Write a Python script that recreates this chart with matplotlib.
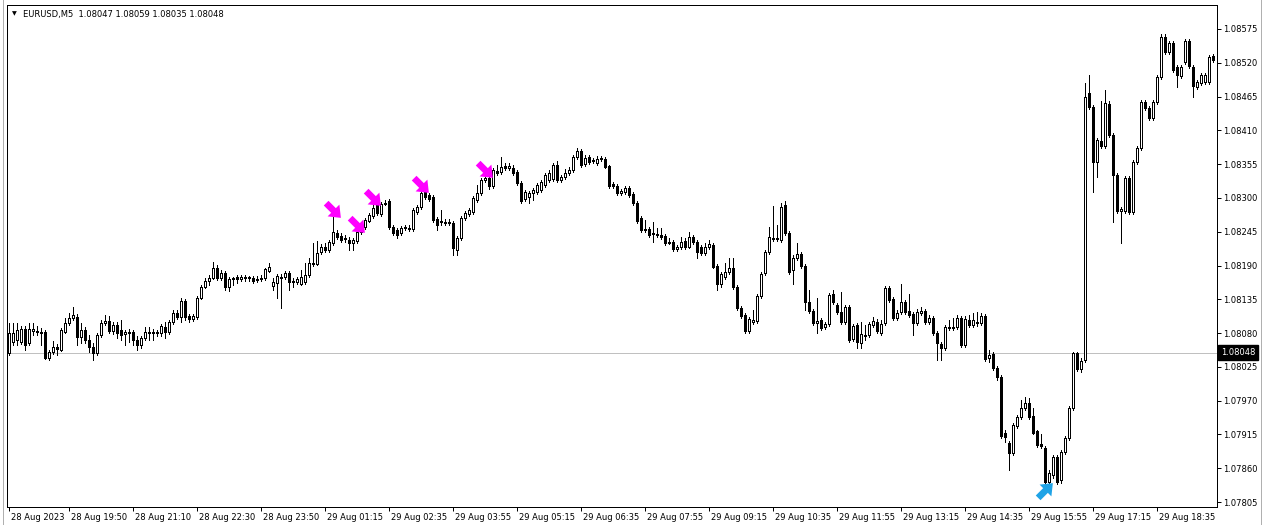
import numpy as np
import matplotlib
matplotlib.use("Agg")
import matplotlib.pyplot as plt
from matplotlib.path import Path
from matplotlib.transforms import Affine2D, ScaledTranslation, blended_transform_factory
from matplotlib.lines import Line2D

# ---------------- data ----------------
symbol = "EURUSD,M5"
header_ohlc = "1.08047 1.08059 1.08035 1.08048"
current_price = 1.08048

open_ = [
    1.08048, 1.08065, 1.08069, 1.08065, 1.08087, 1.08064, 1.08083, 1.08083, 1.08080, 1.08082,
    1.08039, 1.08049, 1.08057, 1.08052, 1.08082, 1.08096, 1.08104, 1.08106, 1.08074, 1.08085,
    1.08069, 1.08057, 1.08048, 1.08077, 1.08096, 1.08100, 1.08083, 1.08093, 1.08085, 1.08078,
    1.08080, 1.08082, 1.08069, 1.08061, 1.08072, 1.08080, 1.08082, 1.08080, 1.08080, 1.08090,
    1.08082, 1.08098, 1.08113, 1.08106, 1.08132, 1.08108, 1.08103, 1.08106, 1.08137, 1.08155,
    1.08165, 1.08169, 1.08186, 1.08169, 1.08178, 1.08155, 1.08168, 1.08171, 1.08168, 1.08171,
    1.08169, 1.08169, 1.08166, 1.08168, 1.08169, 1.08181, 1.08156, 1.08161, 1.08169, 1.08171,
    1.08178, 1.08165, 1.08163, 1.08160, 1.08163, 1.08174, 1.08192, 1.08192, 1.08212, 1.08220,
    1.08215, 1.08227, 1.08243, 1.08238, 1.08235, 1.08232, 1.08227, 1.08230, 1.08244, 1.08253,
    1.08262, 1.08271, 1.08288, 1.08274, 1.08292, 1.08295, 1.08253, 1.08248, 1.08243, 1.08251,
    1.08251, 1.08249, 1.08277, 1.08285, 1.08310, 1.08305, 1.08301, 1.08266, 1.08261, 1.08261,
    1.08259, 1.08259, 1.08215, 1.08235, 1.08267, 1.08274, 1.08277, 1.08297, 1.08308, 1.08329,
    1.08332, 1.08319, 1.08344, 1.08342, 1.08352, 1.08348, 1.08348, 1.08342, 1.08324, 1.08298,
    1.08301, 1.08308, 1.08310, 1.08313, 1.08321, 1.08329, 1.08331, 1.08353, 1.08329, 1.08334,
    1.08340, 1.08345, 1.08367, 1.08376, 1.08355, 1.08367, 1.08362, 1.08357, 1.08363, 1.08363,
    1.08352, 1.08323, 1.08319, 1.08308, 1.08310, 1.08316, 1.08306, 1.08292, 1.08267, 1.08248,
    1.08249, 1.08243, 1.08240, 1.08240, 1.08238, 1.08228, 1.08228, 1.08217, 1.08220, 1.08230,
    1.08220, 1.08236, 1.08228, 1.08220, 1.08210, 1.08220, 1.08223, 1.08189, 1.08160, 1.08171,
    1.08179, 1.08186, 1.08155, 1.08121, 1.08109, 1.08083, 1.08098, 1.08100, 1.08140, 1.08178,
    1.08212, 1.08233, 1.08235, 1.08232, 1.08288, 1.08243, 1.08183, 1.08202, 1.08209, 1.08189,
    1.08131, 1.08116, 1.08096, 1.08101, 1.08090, 1.08095, 1.08143, 1.08126, 1.08114, 1.08098,
    1.08122, 1.08070, 1.08093, 1.08064, 1.08077, 1.08077, 1.08093, 1.08098, 1.08080, 1.08096,
    1.08153, 1.08135, 1.08104, 1.08114, 1.08131, 1.08116, 1.08111, 1.08096, 1.08113, 1.08116,
    1.08098, 1.08104, 1.08080, 1.08062, 1.08056, 1.08090, 1.08088, 1.08090, 1.08104, 1.08061,
    1.08101, 1.08093, 1.08098, 1.08096, 1.08108, 1.08039, 1.08046, 1.08023, 1.08008, 1.07918,
    1.07901, 1.07885, 1.07929, 1.07944, 1.07958, 1.07966, 1.07945, 1.07920, 1.07900, 1.07893,
    1.07838, 1.07849, 1.07879, 1.07841, 1.07887, 1.07910, 1.07958, 1.08048, 1.08021, 1.08036,
    1.08471, 1.08448, 1.08358, 1.08393, 1.08384, 1.08453, 1.08402, 1.08337, 1.08279, 1.08279,
    1.08332, 1.08277, 1.08358, 1.08381, 1.08456, 1.08446, 1.08430, 1.08456, 1.08497, 1.08562,
    1.08538, 1.08552, 1.08513, 1.08498, 1.08521, 1.08556, 1.08513, 1.08481, 1.08487, 1.08489,
    1.08489, 1.08531,
]

high = [
    1.08096, 1.08096, 1.08096, 1.08091, 1.08091, 1.08096, 1.08096, 1.08091, 1.08088, 1.08085,
    1.08052, 1.08067, 1.08062, 1.08088, 1.08104, 1.08113, 1.08122, 1.08111, 1.08096, 1.08090,
    1.08077, 1.08064, 1.08080, 1.08101, 1.08109, 1.08108, 1.08098, 1.08098, 1.08101, 1.08085,
    1.08087, 1.08085, 1.08075, 1.08075, 1.08090, 1.08090, 1.08087, 1.08085, 1.08095, 1.08098,
    1.08101, 1.08118, 1.08118, 1.08137, 1.08135, 1.08111, 1.08111, 1.08140, 1.08158, 1.08169,
    1.08174, 1.08196, 1.08191, 1.08183, 1.08181, 1.08171, 1.08171, 1.08174, 1.08174, 1.08174,
    1.08173, 1.08173, 1.08173, 1.08174, 1.08186, 1.08194, 1.08169, 1.08176, 1.08176, 1.08181,
    1.08181, 1.08169, 1.08171, 1.08183, 1.08194, 1.08202, 1.08227, 1.08230, 1.08225, 1.08227,
    1.08232, 1.08272, 1.08248, 1.08243, 1.08240, 1.08236, 1.08235, 1.08248, 1.08256, 1.08267,
    1.08275, 1.08288, 1.08292, 1.08293, 1.08297, 1.08298, 1.08256, 1.08251, 1.08254, 1.08256,
    1.08256, 1.08283, 1.08288, 1.08318, 1.08313, 1.08308, 1.08305, 1.08269, 1.08280, 1.08266,
    1.08266, 1.08262, 1.08238, 1.08271, 1.08279, 1.08283, 1.08303, 1.08321, 1.08332, 1.08336,
    1.08336, 1.08348, 1.08353, 1.08367, 1.08357, 1.08357, 1.08353, 1.08345, 1.08327, 1.08313,
    1.08311, 1.08316, 1.08324, 1.08329, 1.08340, 1.08345, 1.08357, 1.08360, 1.08337, 1.08347,
    1.08350, 1.08370, 1.08381, 1.08380, 1.08370, 1.08370, 1.08365, 1.08368, 1.08368, 1.08367,
    1.08353, 1.08326, 1.08323, 1.08314, 1.08319, 1.08319, 1.08310, 1.08295, 1.08271, 1.08264,
    1.08253, 1.08261, 1.08251, 1.08251, 1.08241, 1.08235, 1.08232, 1.08223, 1.08236, 1.08235,
    1.08244, 1.08240, 1.08232, 1.08223, 1.08227, 1.08232, 1.08227, 1.08192, 1.08179, 1.08194,
    1.08202, 1.08202, 1.08158, 1.08124, 1.08113, 1.08106, 1.08118, 1.08143, 1.08179, 1.08215,
    1.08253, 1.08287, 1.08256, 1.08292, 1.08295, 1.08246, 1.08207, 1.08227, 1.08212, 1.08192,
    1.08150, 1.08119, 1.08137, 1.08104, 1.08098, 1.08145, 1.08150, 1.08129, 1.08147, 1.08126,
    1.08126, 1.08095, 1.08096, 1.08098, 1.08093, 1.08098, 1.08106, 1.08103, 1.08101, 1.08156,
    1.08156, 1.08138, 1.08118, 1.08160, 1.08134, 1.08143, 1.08114, 1.08119, 1.08122, 1.08119,
    1.08109, 1.08108, 1.08083, 1.08065, 1.08093, 1.08101, 1.08104, 1.08109, 1.08108, 1.08108,
    1.08109, 1.08113, 1.08114, 1.08113, 1.08111, 1.08052, 1.08049, 1.08026, 1.08012, 1.07923,
    1.07905, 1.07934, 1.07947, 1.07971, 1.07976, 1.07974, 1.07958, 1.07923, 1.07915, 1.07896,
    1.07857, 1.07882, 1.07882, 1.07890, 1.07913, 1.07961, 1.08050, 1.08050, 1.08039, 1.08487,
    1.08500, 1.08451, 1.08398, 1.08458, 1.08476, 1.08458, 1.08406, 1.08340, 1.08285, 1.08336,
    1.08336, 1.08362, 1.08384, 1.08459, 1.08459, 1.08450, 1.08459, 1.08500, 1.08567, 1.08567,
    1.08556, 1.08556, 1.08516, 1.08516, 1.08559, 1.08559, 1.08516, 1.08492, 1.08503, 1.08503,
    1.08533, 1.08534,
]

low = [
    1.08044, 1.08061, 1.08061, 1.08062, 1.08052, 1.08061, 1.08077, 1.08077, 1.08061, 1.08038,
    1.08036, 1.08046, 1.08044, 1.08051, 1.08080, 1.08093, 1.08101, 1.08061, 1.08064, 1.08064,
    1.08049, 1.08036, 1.08044, 1.08074, 1.08093, 1.08080, 1.08078, 1.08072, 1.08069, 1.08061,
    1.08065, 1.08061, 1.08052, 1.08056, 1.08069, 1.08069, 1.08069, 1.08075, 1.08075, 1.08072,
    1.08078, 1.08095, 1.08103, 1.08098, 1.08101, 1.08098, 1.08100, 1.08103, 1.08135, 1.08153,
    1.08158, 1.08168, 1.08166, 1.08166, 1.08150, 1.08148, 1.08158, 1.08161, 1.08165, 1.08165,
    1.08165, 1.08161, 1.08163, 1.08165, 1.08166, 1.08179, 1.08150, 1.08137, 1.08121, 1.08168,
    1.08150, 1.08155, 1.08160, 1.08158, 1.08160, 1.08171, 1.08189, 1.08191, 1.08209, 1.08212,
    1.08212, 1.08223, 1.08233, 1.08228, 1.08228, 1.08215, 1.08215, 1.08227, 1.08241, 1.08249,
    1.08261, 1.08267, 1.08272, 1.08271, 1.08288, 1.08249, 1.08240, 1.08235, 1.08240, 1.08248,
    1.08246, 1.08246, 1.08274, 1.08282, 1.08298, 1.08295, 1.08261, 1.08248, 1.08256, 1.08256,
    1.08256, 1.08207, 1.08207, 1.08232, 1.08264, 1.08271, 1.08274, 1.08293, 1.08305, 1.08326,
    1.08314, 1.08316, 1.08337, 1.08339, 1.08345, 1.08345, 1.08337, 1.08321, 1.08292, 1.08295,
    1.08292, 1.08297, 1.08306, 1.08310, 1.08318, 1.08326, 1.08327, 1.08326, 1.08326, 1.08331,
    1.08337, 1.08342, 1.08363, 1.08350, 1.08352, 1.08355, 1.08357, 1.08353, 1.08360, 1.08348,
    1.08316, 1.08316, 1.08305, 1.08305, 1.08306, 1.08301, 1.08288, 1.08259, 1.08244, 1.08244,
    1.08236, 1.08228, 1.08236, 1.08233, 1.08223, 1.08225, 1.08214, 1.08214, 1.08217, 1.08217,
    1.08218, 1.08225, 1.08202, 1.08207, 1.08207, 1.08217, 1.08186, 1.08150, 1.08155, 1.08168,
    1.08176, 1.08152, 1.08118, 1.08104, 1.08080, 1.08080, 1.08095, 1.08096, 1.08137, 1.08174,
    1.08209, 1.08230, 1.08230, 1.08228, 1.08240, 1.08176, 1.08160, 1.08199, 1.08186, 1.08118,
    1.08113, 1.08093, 1.08080, 1.08085, 1.08087, 1.08091, 1.08127, 1.08111, 1.08095, 1.08095,
    1.08065, 1.08067, 1.08056, 1.08056, 1.08069, 1.08074, 1.08090, 1.08080, 1.08077, 1.08093,
    1.08131, 1.08101, 1.08101, 1.08111, 1.08111, 1.08106, 1.08077, 1.08093, 1.08109, 1.08095,
    1.08095, 1.08077, 1.08036, 1.08036, 1.08052, 1.08085, 1.08085, 1.08087, 1.08057, 1.08057,
    1.08090, 1.08090, 1.08091, 1.08093, 1.08034, 1.08033, 1.08020, 1.08004, 1.07910, 1.07903,
    1.07857, 1.07882, 1.07926, 1.07941, 1.07955, 1.07941, 1.07915, 1.07895, 1.07893, 1.07834,
    1.07834, 1.07845, 1.07834, 1.07836, 1.07883, 1.07906, 1.07955, 1.08018, 1.08017, 1.08033,
    1.08445, 1.08310, 1.08334, 1.08381, 1.08381, 1.08399, 1.08261, 1.08275, 1.08227, 1.08275,
    1.08274, 1.08274, 1.08355, 1.08378, 1.08443, 1.08427, 1.08427, 1.08453, 1.08494, 1.08534,
    1.08534, 1.08505, 1.08481, 1.08495, 1.08518, 1.08512, 1.08464, 1.08477, 1.08484, 1.08486,
    1.08486, 1.08521,
]

close = [
    1.08080, 1.08080, 1.08085, 1.08087, 1.08061, 1.08087, 1.08087, 1.08082, 1.08082, 1.08039,
    1.08049, 1.08057, 1.08054, 1.08085, 1.08096, 1.08104, 1.08109, 1.08074, 1.08085, 1.08069,
    1.08057, 1.08048, 1.08077, 1.08096, 1.08100, 1.08083, 1.08093, 1.08080, 1.08077, 1.08082,
    1.08082, 1.08069, 1.08061, 1.08072, 1.08082, 1.08082, 1.08080, 1.08082, 1.08091, 1.08082,
    1.08098, 1.08113, 1.08106, 1.08132, 1.08106, 1.08103, 1.08108, 1.08137, 1.08155, 1.08165,
    1.08169, 1.08186, 1.08169, 1.08178, 1.08155, 1.08168, 1.08169, 1.08168, 1.08171, 1.08169,
    1.08171, 1.08165, 1.08168, 1.08169, 1.08184, 1.08187, 1.08163, 1.08173, 1.08171, 1.08178,
    1.08163, 1.08163, 1.08168, 1.08171, 1.08174, 1.08194, 1.08194, 1.08210, 1.08220, 1.08215,
    1.08228, 1.08244, 1.08236, 1.08232, 1.08233, 1.08227, 1.08232, 1.08244, 1.08253, 1.08264,
    1.08272, 1.08283, 1.08275, 1.08290, 1.08290, 1.08253, 1.08243, 1.08240, 1.08251, 1.08253,
    1.08249, 1.08280, 1.08285, 1.08308, 1.08301, 1.08298, 1.08264, 1.08256, 1.08262, 1.08259,
    1.08261, 1.08218, 1.08235, 1.08267, 1.08275, 1.08280, 1.08300, 1.08308, 1.08329, 1.08332,
    1.08319, 1.08345, 1.08340, 1.08350, 1.08348, 1.08352, 1.08340, 1.08324, 1.08295, 1.08310,
    1.08308, 1.08313, 1.08321, 1.08326, 1.08337, 1.08340, 1.08353, 1.08329, 1.08334, 1.08340,
    1.08345, 1.08367, 1.08376, 1.08353, 1.08365, 1.08358, 1.08360, 1.08363, 1.08365, 1.08350,
    1.08319, 1.08319, 1.08308, 1.08311, 1.08316, 1.08305, 1.08292, 1.08262, 1.08248, 1.08249,
    1.08240, 1.08241, 1.08241, 1.08236, 1.08227, 1.08227, 1.08217, 1.08220, 1.08228, 1.08220,
    1.08236, 1.08228, 1.08212, 1.08210, 1.08220, 1.08225, 1.08187, 1.08160, 1.08176, 1.08179,
    1.08186, 1.08155, 1.08121, 1.08108, 1.08083, 1.08103, 1.08101, 1.08140, 1.08176, 1.08212,
    1.08236, 1.08235, 1.08233, 1.08285, 1.08243, 1.08179, 1.08202, 1.08209, 1.08189, 1.08131,
    1.08116, 1.08096, 1.08100, 1.08088, 1.08095, 1.08142, 1.08131, 1.08114, 1.08098, 1.08122,
    1.08069, 1.08091, 1.08065, 1.08078, 1.08075, 1.08095, 1.08100, 1.08083, 1.08095, 1.08153,
    1.08134, 1.08104, 1.08113, 1.08131, 1.08114, 1.08109, 1.08096, 1.08114, 1.08116, 1.08098,
    1.08104, 1.08080, 1.08064, 1.08056, 1.08090, 1.08088, 1.08090, 1.08104, 1.08061, 1.08103,
    1.08093, 1.08101, 1.08096, 1.08108, 1.08038, 1.08044, 1.08023, 1.08008, 1.07913, 1.07911,
    1.07885, 1.07931, 1.07944, 1.07958, 1.07966, 1.07944, 1.07918, 1.07898, 1.07896, 1.07838,
    1.07852, 1.07879, 1.07838, 1.07887, 1.07910, 1.07958, 1.08048, 1.08021, 1.08034, 1.08464,
    1.08448, 1.08358, 1.08394, 1.08384, 1.08454, 1.08402, 1.08337, 1.08279, 1.08282, 1.08332,
    1.08277, 1.08358, 1.08381, 1.08456, 1.08446, 1.08430, 1.08456, 1.08497, 1.08562, 1.08538,
    1.08552, 1.08508, 1.08500, 1.08513, 1.08556, 1.08515, 1.08482, 1.08489, 1.08500, 1.08500,
    1.08529, 1.08525,
]

time_tick_bars = [0, 15, 31, 47, 63, 79, 95, 111, 127, 143, 159, 175, 191, 207, 223, 239, 255, 271, 287]
time_tick_labels = ["28 Aug 2023", "28 Aug 19:50", "28 Aug 21:10", "28 Aug 22:30", "28 Aug 23:50",
                    "29 Aug 01:15", "29 Aug 02:35", "29 Aug 03:55", "29 Aug 05:15", "29 Aug 06:35",
                    "29 Aug 07:55", "29 Aug 09:15", "29 Aug 10:35", "29 Aug 11:55", "29 Aug 13:15",
                    "29 Aug 14:35", "29 Aug 15:55", "29 Aug 17:15", "29 Aug 18:35"]
price_ticks = [1.07805, 1.07860, 1.07915, 1.07970, 1.08025, 1.08080, 1.08135, 1.08190,
               1.08245, 1.08300, 1.08355, 1.08410, 1.08465, 1.08520, 1.08575]

sell_bars = [81, 87, 91, 103, 119]
sell_prices = [1.08280, 1.08256, 1.08300, 1.08321, 1.08345]
buy_bars = [259]
buy_prices = [1.07824]

# ---------------- figure ----------------
W, H, DPI = 1264, 525, 100
fig = plt.figure(figsize=(W / DPI, H / DPI), dpi=DPI, facecolor="white")
ax = fig.add_axes([7 / W, 18 / H, 1210 / W, 502 / H])
ax.set_facecolor("white")

o = np.array(open_); h = np.array(high); l = np.array(low); c = np.array(close)
x = np.arange(len(o))
px = 0.72  # one pixel in points

ax.vlines(x, l, h, colors="black", linewidth=px, zorder=2, antialiased=False)
up = c >= o
body_bottom = np.minimum(o, c)
body_height = np.abs(c - o)
ax.bar(x[up], body_height[up], bottom=body_bottom[up], width=0.5,
       facecolor="white", edgecolor="black", linewidth=px, zorder=3, antialiased=False)
ax.bar(x[~up], body_height[~up], bottom=body_bottom[~up], width=0.5,
       facecolor="black", edgecolor="black", linewidth=px, zorder=3, antialiased=False)

# current price line
ax.axhline(current_price, color="#c0c0c0", linewidth=px, zorder=1)

# arrow markers (thick block arrows)
shape = [(-1, -0.32), (0.0, -0.32), (0.0, -0.8), (1, 0), (0.0, 0.8), (0.0, 0.32), (-1, 0.32), (-1, -0.32)]
codes = [Path.MOVETO] + [Path.LINETO] * 6 + [Path.CLOSEPOLY]
base = Path(shape, codes)
down_right = base.transformed(Affine2D().rotate_deg(-45))
up_right = base.transformed(Affine2D().rotate_deg(45))
ax.plot(sell_bars, sell_prices, linestyle="none", marker=down_right, markersize=14,
        color="#ff00ff", markeredgewidth=0, zorder=4)
ax.plot(buy_bars, buy_prices, linestyle="none", marker=up_right, markersize=14,
        color="#1fa3e6", markeredgewidth=0, zorder=4)

ax.set_xlim(-0.5, 302)
ax.set_ylim(1.07797, 1.08614)

for s in ax.spines.values():
    s.set_color("black")
    s.set_linewidth(px)

# y axis on right
ax.yaxis.tick_right()
ax.set_yticks(price_ticks)
ax.set_yticklabels([f"{p:.5f}" for p in price_ticks])
ax.tick_params(axis="y", direction="out", length=3, width=px, pad=1.5,
               labelsize=6, colors="black")

# x axis
ax.set_xticks(time_tick_bars)
ax.set_xticklabels(time_tick_labels, ha="left")
ax.tick_params(axis="x", direction="out", length=3, width=px, pad=1.5,
               labelsize=6, colors="black")
shift = ScaledTranslation(2 / DPI, 0, fig.dpi_scale_trans)
for lbl in ax.get_xticklabels():
    lbl.set_transform(lbl.get_transform() + shift)

# current price label
trans = blended_transform_factory(ax.transAxes, ax.transData)
ax.annotate(f"{current_price:.5f}", xy=(1.0, current_price), xycoords=trans,
            xytext=(4, 0), textcoords="offset pixels", ha="left", va="center",
            fontsize=6, color="white", annotation_clip=False,
            bbox=dict(boxstyle="square,pad=0.35", fc="black", ec="black"))

# header
fig.text(12 / W, 1 - 14 / H, "\u25BC", fontsize=4.5, ha="left", va="center", color="black")
fig.text(23 / W, 1 - 14 / H, f"{symbol}  {header_ohlc}", fontsize=6, ha="left", va="center", color="black")

# window borders
fig.add_artist(Line2D([2.5 / W, 2.5 / W], [0, 1], transform=fig.transFigure, color="#b0b0b0", linewidth=px))
fig.add_artist(Line2D([1260.5 / W, 1260.5 / W], [0, 1], transform=fig.transFigure, color="#b0b0b0", linewidth=px))

fig.savefig("out.png", dpi=DPI, facecolor="white")
